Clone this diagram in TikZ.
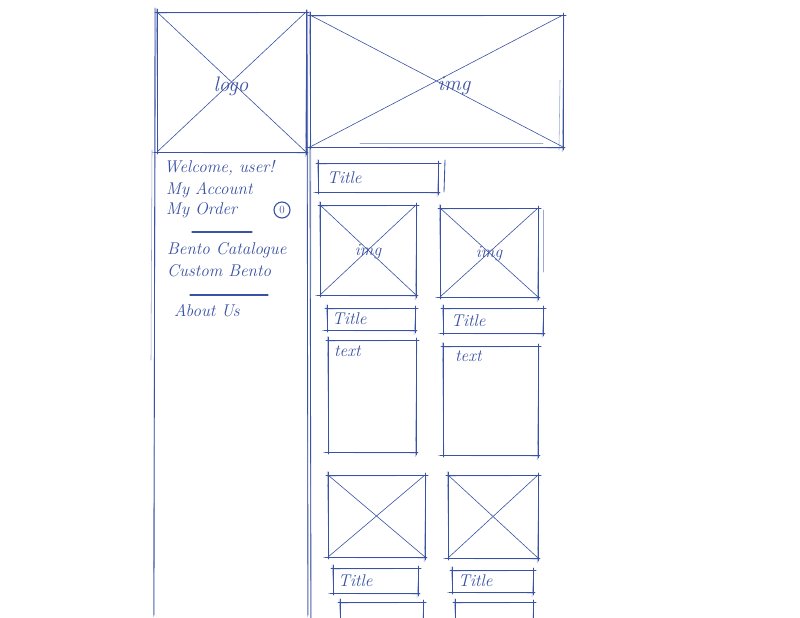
\documentclass[tikz,border=0pt]{standalone}
\usetikzlibrary{calc}
\definecolor{ink}{HTML}{3A52A4}

% one pen edge: a firm stroke plus a lighter second pass
\newcommand\skedge[2]{%
  \draw[pen, shorten <=-2pt, shorten >=-3pt] (#1) -- (#2);
  \draw[faint, shorten <=-1pt, shorten >=-4pt] ([shift={(0.9,1.0)}]#1) -- ([shift={(-0.7,0.6)}]#2);
}
% a sketched box: name, left, top, right, bottom
\newcommand\skbox[5]{%
  \node[frame, minimum width={#4-#2}, minimum height={#5-#3}] (#1) at ({(#2+#4)/2},{(#3+#5)/2}) {};
  \skedge{#1.north west}{#1.north east}
  \skedge{#1.north east}{#1.south east}
  \skedge{#1.south east}{#1.south west}
  \skedge{#1.south west}{#1.north west}
}
% image placeholder cross
\newcommand\skcross[1]{%
  \draw[pen, line width=0.6pt] (#1.north west) -- (#1.south east);
  \draw[pen, line width=0.6pt] (#1.north east) -- (#1.south west);
}

\begin{document}
\begin{tikzpicture}[x=1pt,y=-1pt,
  pen/.style={draw=ink, line width=0.85pt, line cap=round},
  faint/.style={draw=ink, line width=0.55pt, opacity=0.5, line cap=round},
  frame/.style={draw=none, inner sep=0pt, outer sep=0pt, rectangle},
  hand/.style={text=ink, font=\fontsize{17}{19}\selectfont\itshape, inner sep=0pt, anchor=west},
  tag/.style={text=ink, font=\fontsize{17}{19}\selectfont\itshape, inner sep=0pt},
  bigtag/.style={text=ink, font=\fontsize{21}{23}\selectfont\itshape, inner sep=0pt},
]
\useasboundingbox (0,0) rectangle (800,618);
\fill[white] (0,0) rectangle (800,618);

% ---- page columns ----
\coordinate (colL-top) at (155,10);
\coordinate (colL-bot) at (154,612);
\coordinate (colM-top) at (307,12);
\coordinate (colM-bot) at (308,612);
\coordinate (colR-top) at (310,148);
\coordinate (colR-bot) at (311,618);
\skedge{colL-top}{colL-bot}
\draw[faint] (152,150) -- (151,360);
\skedge{colM-top}{colM-bot}
\skedge{colR-top}{colR-bot}

% ---- header: logo and banner image ----
\skbox{logo}{157}{12}{306}{152}
\skcross{logo}
\node[bigtag] (logotxt) at (231,86) {logo};

\skbox{hero}{310}{15}{563}{147}
\skcross{hero}
\draw[faint] (360,143) -- (543,143);
\draw[faint] (560,80) -- (559,150);
\node[bigtag] (herotxt) at (454,86) {img};

% ---- side menu ----
\node[hand] (welcome) at (164,168) {Welcome, user!};
\node[hand] (account) at (166,190) {My Account};
\node[hand] (order)   at (166,210) {My Order};
\node[draw=ink, line width=1.1pt, circle, minimum size=16pt, inner sep=0pt,
      text=ink, font=\fontsize{11}{12}\selectfont] (badge) at (282,210) {0};
\coordinate (sep1a) at (192,232);
\coordinate (sep1b) at (252,232);
\draw[pen, line width=1.3pt] (sep1a) -- (sep1b);
\node[hand] (catalogue) at (167,250) {Bento Catalogue};
\node[hand] (custom)    at (167,271) {Custom Bento};
\coordinate (sep2a) at (190,295);
\coordinate (sep2b) at (268,295);
\draw[pen, line width=1.2pt] (sep2a) -- (sep2b);
\node[hand] (about) at (174,311) {About Us};

% ---- content area ----
\skbox{pagetitle}{318}{163}{438}{192}
\draw[pen] (445,160) -- (444,192);
\node[hand] (pagetitletxt) at (327,178) {Title};

% first row of cards
\skbox{img1}{320}{205}{416}{295}
\skcross{img1}
\node[tag] (img1txt) at (368,252) {img};
\skbox{img2}{440}{208}{538}{297}
\skcross{img2}
\draw[faint] (543,210) -- (543,272);
\node[tag] (img2txt) at (489,254) {img};

\skbox{title1}{327}{308}{415}{330}
\node[hand] (title1txt) at (332,319) {Title};
\skbox{title2}{443}{308}{543}{333}
\node[hand] (title2txt) at (451,321) {Title};

\skbox{text1}{328}{340}{416}{452}
\node[hand] (text1txt) at (334,351) {text};
\skbox{text2}{443}{346}{538}{455}
\node[hand] (text2txt) at (455,356) {text};

% second row of cards
\skbox{img3}{328}{475}{425}{557}
\skcross{img3}
\skbox{img4}{448}{475}{538}{558}
\skcross{img4}

\skbox{title3}{333}{568}{418}{593}
\node[hand] (title3txt) at (338,581) {Title};
\skbox{title4}{452}{570}{533}{592}
\node[hand] (title4txt) at (458,581) {Title};

% boxes cut off at the page edge
\coordinate (p1a) at (340,625);
\coordinate (p1b) at (340,602);
\coordinate (p1c) at (423,602);
\coordinate (p1d) at (423,625);
\skedge{p1a}{p1b}
\skedge{p1b}{p1c}
\skedge{p1c}{p1d}
\coordinate (p2a) at (455,625);
\coordinate (p2b) at (455,602);
\coordinate (p2c) at (533,602);
\coordinate (p2d) at (533,625);
\skedge{p2a}{p2b}
\skedge{p2b}{p2c}
\skedge{p2c}{p2d}
\end{tikzpicture}
\end{document}
